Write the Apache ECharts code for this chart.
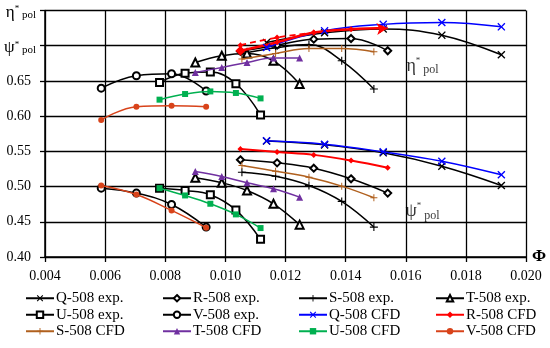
<!DOCTYPE html>
<html><head><meta charset="utf-8">
<script src="https://cdn.jsdelivr.net/npm/echarts@6.0.0/dist/echarts.min.js"></script>
<style>html,body{margin:0;padding:0;background:#fff}#c{width:550px;height:348px}</style>
</head><body><div id="c"></div>
<script>
// flow coefficient (Phi) per stage
const phiQ = [0.01137, 0.0133, 0.01525, 0.0172, 0.01918];
const phiR = [0.0105, 0.01172, 0.01294, 0.01418, 0.0154];
const phiS = [0.01055, 0.01167, 0.01278, 0.01387, 0.01494];
const phiT = [0.0090, 0.00988, 0.01072, 0.0116, 0.01247];
const phiU = [0.00781, 0.00866, 0.0095, 0.01035, 0.01117];
const phiV = [0.00587, 0.00704, 0.00821, 0.00936];

// polytropic efficiency
const etaQexp = [0.7045, 0.7183, 0.7239, 0.7150, 0.6871];
const etaRexp = [0.6920, 0.7008, 0.7093, 0.7102, 0.6928];
const etaSexp = [0.6885, 0.6970, 0.7017, 0.6786, 0.6385];
const etaTexp = [0.6762, 0.6857, 0.6890, 0.6786, 0.6456];
const etaUexp = [0.6479, 0.6609, 0.6626, 0.6460, 0.6017];
const etaVexp = [0.6397, 0.6574, 0.6602, 0.6357];
const etaQcfd = [0.6975, 0.7211, 0.7303, 0.7329, 0.7268];
const etaRcfd = [0.6928, 0.7050, 0.7187, 0.7235, 0.7252];
const etaRcfdAlt = [0.7008, 0.7116, 0.7187];
const etaScfd = [0.6810, 0.6890, 0.6960, 0.6960, 0.6914];
const etaTcfd = [0.6620, 0.6691, 0.6762, 0.6824, 0.6824];
const etaUcfd = [0.6234, 0.6314, 0.6351, 0.6329, 0.6252];
const etaVcfd = [0.5946, 0.6135, 0.6149, 0.6135];

// polytropic head coefficient
const psiQexp = [0.5646, 0.5592, 0.5479, 0.5289, 0.5016];
const psiRexp = [0.5380, 0.5337, 0.5261, 0.5110, 0.4907];
const psiSexp = [0.5204, 0.5146, 0.5016, 0.4789, 0.4425];
const psiTexp = [0.5125, 0.5054, 0.4945, 0.4756, 0.4459];
const psiUexp = [0.4977, 0.4945, 0.4884, 0.4666, 0.4251];
const psiVexp = [0.4977, 0.4907, 0.4746, 0.4425];
const psiQcfd = [0.5649, 0.5601, 0.5493, 0.5360, 0.5167];
const psiRcfd = [0.5535, 0.5490, 0.5450, 0.5370, 0.5266];
const psiScfd = [0.5299, 0.5218, 0.5133, 0.5006, 0.4841];
const psiTcfd = [0.5214, 0.5143, 0.5054, 0.4969, 0.4850];
const psiUcfd = [0.4977, 0.4874, 0.4756, 0.4605, 0.4411];
const psiVcfd = [0.5016, 0.4888, 0.4661, 0.4416];

const xTicks = [0.004, 0.006, 0.008, 0.010, 0.012, 0.014, 0.016, 0.018, 0.020];
const annotPhi = 0.01656;
const annotEta = 0.6715;
const annotPsi = 0.4647;

const X_SYM = 'path://M0,1.2L1.2,0L5,3.8L8.8,0L10,1.2L6.2,5L10,8.8L8.8,10L5,6.2L1.2,10L0,8.8L3.8,5Z';
const P_SYM = 'path://M4.3,0H5.7V4.3H10V5.7H5.7V10H4.3V5.7H0V4.3H4.3Z';
const FONT = 'Liberation Serif';

function mk(name, phi, vals, st) {
  return {
    name: name, type: 'line', smooth: 0.4, animation: false,
    data: phi.map((p, i) => [p, vals[i]]),
    symbol: st.symbol, symbolSize: st.size,
    lineStyle: { color: st.color, width: st.width || 1.5, type: st.type || 'solid' },
    itemStyle: { color: st.color, borderColor: st.color, borderWidth: st.bw === undefined ? 1 : st.bw },
    z: st.z || 2
  };
}

const styles = {
  'Q-508 exp.': { symbol: X_SYM, size: 8, color: '#000', bw: 0 },
  'R-508 exp.': { symbol: 'emptyDiamond', size: 7, color: '#000' },
  'S-508 exp.': { symbol: P_SYM, size: 8, color: '#000', bw: 0 },
  'T-508 exp.': { symbol: 'emptyTriangle', size: 8, color: '#000' },
  'U-508 exp.': { symbol: 'emptyRect', size: 7, color: '#000' },
  'V-508 exp.': { symbol: 'emptyCircle', size: 7, color: '#000' },
  'Q-508 CFD': { symbol: X_SYM, size: 8, color: '#0000ff', bw: 0, z: 3 },
  'R-508 CFD': { symbol: 'diamond', size: 6, color: '#ff0000', bw: 0, z: 3, width: 2 },
  'S-508 CFD': { symbol: P_SYM, size: 7, color: '#b0601e', bw: 0, z: 3 },
  'T-508 CFD': { symbol: 'triangle', size: 7, color: '#7030a0', bw: 0, z: 3 },
  'U-508 CFD': { symbol: 'rect', size: 6, color: '#00b050', bw: 0, z: 3 },
  'V-508 CFD': { symbol: 'circle', size: 6, color: '#d8431a', bw: 0, z: 3 }
};

const series = [
  mk('Q-508 exp.', phiQ, etaQexp, styles['Q-508 exp.']),
  mk('Q-508 exp.', phiQ, psiQexp, styles['Q-508 exp.']),
  mk('R-508 exp.', phiR, etaRexp, styles['R-508 exp.']),
  mk('R-508 exp.', phiR, psiRexp, styles['R-508 exp.']),
  mk('S-508 exp.', phiS, etaSexp, styles['S-508 exp.']),
  mk('S-508 exp.', phiS, psiSexp, styles['S-508 exp.']),
  mk('T-508 exp.', phiT, etaTexp, styles['T-508 exp.']),
  mk('T-508 exp.', phiT, psiTexp, styles['T-508 exp.']),
  mk('U-508 exp.', phiU, etaUexp, styles['U-508 exp.']),
  mk('U-508 exp.', phiU, psiUexp, styles['U-508 exp.']),
  mk('V-508 exp.', phiV, etaVexp, styles['V-508 exp.']),
  mk('V-508 exp.', phiV, psiVexp, styles['V-508 exp.']),
  mk('Q-508 CFD', phiQ, etaQcfd, styles['Q-508 CFD']),
  mk('Q-508 CFD', phiQ, psiQcfd, styles['Q-508 CFD']),
  mk('R-508 CFD', phiR, psiRcfd, styles['R-508 CFD']),
  mk('R-508 CFD', phiR, etaRcfd, styles['R-508 CFD']),
  mk('S-508 CFD', phiS, etaScfd, styles['S-508 CFD']),
  mk('S-508 CFD', phiS, psiScfd, styles['S-508 CFD']),
  mk('T-508 CFD', phiT, etaTcfd, styles['T-508 CFD']),
  mk('T-508 CFD', phiT, psiTcfd, styles['T-508 CFD']),
  mk('U-508 CFD', phiU, etaUcfd, styles['U-508 CFD']),
  mk('U-508 CFD', phiU, psiUcfd, styles['U-508 CFD']),
  mk('V-508 CFD', phiV, etaVcfd, styles['V-508 CFD']),
  mk('V-508 CFD', phiV, psiVcfd, styles['V-508 CFD'])
];
// thick red eta line: big start marker and arrow end
const rEta = series[15];
rEta.lineStyle.width = 2.5;
rEta.data = rEta.data.map((d, i) => {
  if (i === 0) return { value: d, symbol: 'diamond', symbolSize: 10 };
  if (i === rEta.data.length - 1) return { value: d, symbol: 'arrow', symbolSize: [9, 11], symbolRotate: -85 };
  return { value: d };
});
// dashed red segment
series.push(mk('R-508 CFD alt', phiR.slice(0, 3), etaRcfdAlt, { symbol: 'diamond', size: 6, color: '#ff0000', bw: 0, z: 3, width: 1.8, type: [6, 4] }));
// text annotations
series.push({
  name: 'annot', type: 'scatter', symbolSize: 0, z: 5,
  data: [
    { value: [annotPhi, annotEta], label: { formatter: '{a|η}{b|*}{c| pol}' } },
    { value: [annotPhi, annotPsi], label: { formatter: '{a|ψ}{b|*}{c| pol}' } }
  ],
  label: {
    show: true, position: 'inside', color: '#000', fontFamily: FONT,
    rich: {
      a: { fontSize: 18, fontFamily: FONT, color: '#000', lineHeight: 20 },
      b: { fontSize: 9, fontFamily: FONT, color: '#000', verticalAlign: 'top', lineHeight: 9 },
      c: { fontSize: 12, fontFamily: FONT, color: '#000', verticalAlign: 'bottom', lineHeight: 12 }
    }
  }
});

const legendBase = {
  orient: 'vertical', top: 290, padding: 0, itemWidth: 28, itemHeight: 8, itemGap: 0,
  textStyle: { fontFamily: FONT, fontSize: 15, lineHeight: 16.5, color: '#000', padding: [0, 0, 0, -3] },
  inactiveColor: '#ccc'
};
const legendCols = [
  [25, ['Q-508 exp.', 'U-508 exp.', 'S-508 CFD']],
  [162, ['R-508 exp.', 'V-508 exp.', 'T-508 CFD']],
  [298, ['S-508 exp.', 'Q-508 CFD', 'U-508 CFD']],
  [435, ['T-508 exp.', 'R-508 CFD', 'V-508 CFD']]
];

const option = {
  animation: false,
  backgroundColor: '#fff',
  grid: { left: 45, right: 24, top: 9, bottom: 91, containLabel: false },
  legend: legendCols.map(c => Object.assign({}, legendBase, { left: c[0], data: c[1] })),
  xAxis: {
    type: 'value', min: xTicks[0], max: xTicks[xTicks.length - 1], interval: 0.002,
    name: 'Φ', nameLocation: 'end', nameGap: 6,
    nameTextStyle: { fontFamily: FONT, fontSize: 17, fontWeight: 'bold', color: '#000', verticalAlign: 'middle' },
    axisLine: { lineStyle: { color: '#000', width: 1.5 } },
    axisTick: { show: true, length: 5, lineStyle: { color: '#000', width: 1.3 } },
    splitLine: { show: true, lineStyle: { color: '#000', width: 1.3 } },
    axisLabel: { margin: 12, fontFamily: FONT, fontSize: 14, color: '#000', formatter: v => v.toFixed(3) }
  },
  yAxis: {
    type: 'value', min: 0.40, max: 0.75, interval: 0.05,
    axisLine: { show: true, lineStyle: { color: '#000', width: 1.5 } },
    axisTick: { show: true, length: 5, lineStyle: { color: '#000', width: 1.3 } },
    splitLine: { show: true, lineStyle: { color: '#000', width: 1.3 } },
    axisLabel: {
      margin: 9, fontFamily: FONT, fontSize: 14, color: '#000',
      formatter: v => {
        if (Math.abs(v - 0.75) < 1e-6) return '{a|η}{b|*}{c| pol}';
        if (Math.abs(v - 0.70) < 1e-6) return '{a|ψ}{b|*}{c| pol}';
        return '{n|' + v.toFixed(2) + '}';
      },
      rich: {
        n: { fontSize: 14, fontFamily: FONT, color: '#000', padding: [0, 5, 0, 0] },
        a: { fontSize: 17, fontFamily: FONT, color: '#000', lineHeight: 20, padding: [4, 0, 0, 0] },
        b: { fontSize: 9, fontFamily: FONT, color: '#000', verticalAlign: 'top', lineHeight: 9, padding: [4, 0, 0, 0] },
        c: { fontSize: 11, fontFamily: FONT, color: '#000', verticalAlign: 'bottom', lineHeight: 11 }
      }
    }
  },
  series: series
};
const chart = echarts.init(document.getElementById('c'), null, { renderer: 'canvas' });
chart.setOption(option);
</script>
</body></html>
